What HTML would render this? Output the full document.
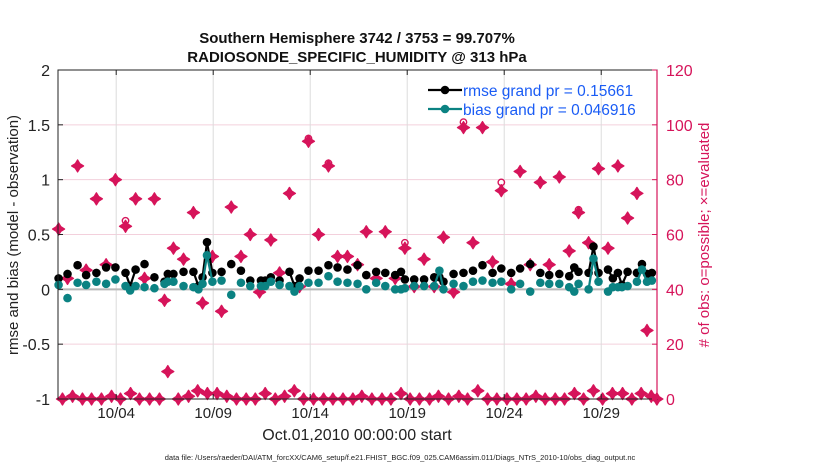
<!DOCTYPE html>
<html><head><meta charset="utf-8"><style>
body{margin:0;background:#fff}
svg{display:block;font-family:"Liberation Sans",sans-serif}
</style></head><body>
<svg id="c" width="830" height="470" viewBox="0 0 830 470"></svg>
<script>
const rmseDays=[0.03,0.49,1.01,1.45,1.98,2.48,2.96,3.48,3.72,4.0,4.46,4.97,5.49,5.66,5.95,6.47,6.98,7.24,7.45,7.68,7.96,8.43,8.93,9.43,9.91,10.46,10.68,10.97,11.42,11.93,12.19,12.45,12.91,13.43,13.94,14.41,14.92,15.44,15.89,16.40,16.87,17.38,17.68,17.88,18.36,18.87,19.39,19.66,19.87,20.39,20.90,21.39,21.88,22.40,22.85,23.36,23.82,24.34,24.86,25.32,25.84,26.35,26.61,26.83,27.35,27.60,27.86,28.35,28.60,28.86,29.07,29.36,29.84,30.10,30.36,30.61];
const rmseVals=[0.10,0.14,0.22,0.13,0.15,0.20,0.20,0.15,0.03,0.18,0.23,0.11,0.07,0.14,0.14,0.16,0.16,0.03,0.11,0.43,0.15,0.16,0.23,0.17,0.08,0.08,0.08,0.11,0.08,0.16,0.03,0.10,0.17,0.17,0.22,0.20,0.18,0.22,0.13,0.16,0.15,0.13,0.16,0.09,0.09,0.09,0.11,0.11,0.07,0.14,0.15,0.17,0.22,0.15,0.19,0.15,0.19,0.23,0.15,0.13,0.14,0.12,0.20,0.16,0.15,0.39,0.15,0.18,0.10,0.15,0.04,0.16,0.15,0.23,0.14,0.15];
const biasVals=[0.04,-0.08,0.06,0.04,0.07,0.05,0.09,0.03,-0.01,0.03,0.02,0.01,0.05,0.07,0.07,0.03,0.02,0.0,0.05,0.31,0.07,0.08,-0.05,0.06,0.03,0.03,0.03,0.07,0.04,0.03,-0.02,0.03,0.06,0.06,0.12,0.07,0.06,0.05,0.0,0.06,0.03,0.0,0.0,0.01,0.03,0.03,0.03,0.17,0.0,0.05,0.03,0.07,0.08,0.06,0.07,0.0,0.05,-0.02,0.06,0.05,0.05,0.02,-0.02,0.05,0.0,0.28,0.07,-0.02,0.02,0.02,0.02,0.03,0.07,0.18,0.07,0.08];
const obsDays=[0.03,0.49,1.01,1.45,1.98,2.48,2.96,3.48,4.0,4.46,4.97,5.49,5.66,5.95,6.47,6.98,7.45,7.96,8.43,8.93,9.43,9.91,10.39,10.97,11.42,11.93,12.45,12.91,13.43,13.94,14.41,14.92,15.44,15.89,16.40,16.87,17.38,17.88,18.36,18.87,19.39,19.87,20.39,20.90,21.39,21.88,22.40,22.85,23.36,23.82,24.34,24.86,25.32,25.84,26.35,26.83,27.35,27.86,28.35,28.86,29.36,29.84,30.36];
const obsEval=[62,44,85,47,73,49,80,63,73,44,73,36,10,55,51,68,35,52,32,70,52,60,39,58,46,75,41,94,60,85,52,52,49,61,44,61,44,55,41,51,41,59,39,99,57,99,50,76,42,83,49,79,49,81,54,68,57,84,55,85,66,75,25];
const obsPoss=[62,44,85,47,73,49,80,65,73,44,73,36,10,55,51,68,35,52,32,70,52,60,39,58,46,75,41,95,60,86,52,52,49,61,44,61,44,57,41,51,41,59,39,101,57,99,50,79,42,83,49,79,49,81,54,69,57,84,55,85,66,75,25];
const lowDays=[0.23,0.75,1.26,1.73,2.24,2.76,3.22,3.74,4.2,4.72,5.23,6.2,6.73,7.2,7.7,8.2,8.7,9.2,9.7,10.17,10.68,11.2,11.68,12.18,12.66,13.17,13.69,14.17,14.69,15.2,15.66,16.18,16.70,17.16,17.68,18.15,18.63,19.15,19.61,20.13,20.66,21.11,21.64,22.14,22.62,23.14,23.65,24.13,24.63,25.11,25.63,26.11,26.62,27.09,27.60,28.07,28.58,29.1,29.58,30.06,30.58,30.87];
const lowCounts=[0,1,0,0,0,1,0,2,0,0,0,0,1,3,2,2,1,0,0,0,2,0,1,3,0,0,0,0,0,0,1,0,0,0,2,0,0,0,1,0,1,0,3,0,0,0,0,0,1,0,0,0,2,0,3,0,2,2,0,2,1,0];
const leftTicks=[-1,-0.5,0,0.5,1,1.5,2];
const rightTicks=[0,20,40,60,80,100,120];
const dateTicks=[3,8,13,18,23,28];
const dateLabels=["10/04","10/09","10/14","10/19","10/24","10/29"];

const L=58,R=657,T=70,B=399;
const xS=d=>L+d*(R-L)/30.875;
const yL=v=>B-(v+1)*(B-T)/3;
const yR=v=>B-v*(B-T)/120;
const svg=document.getElementById('c');
const NS='http://www.w3.org/2000/svg';
function mk(tag,attrs,parent){const e=document.createElementNS(NS,tag);for(const k in attrs)e.setAttribute(k,attrs[k]);(parent||svg).appendChild(e);return e;}
const PINK='#d6145a';

leftTicks.forEach(v=>{if(v>-1&&v<2&&v!==0){const g=mk('line',{x1:L,x2:R,y1:yL(v),y2:yL(v),stroke:'#f3d0dc','stroke-width':1});

}});
dateTicks.forEach(d=>{const g=mk('line',{x1:xS(d),x2:xS(d),y1:T,y2:B,stroke:'#dcdcdc','stroke-width':1});

});
const zl=mk('line',{x1:L,x2:R,y1:yL(0),y2:yL(0),stroke:'#b8b8b8','stroke-width':2});



function star(x,y,parent){
  const p=mk('path',{d:`M${x} ${y-6}L${x+2.3} ${y-2.3}L${x+6} ${y}L${x+2.3} ${y+2.3}L${x} ${y+6}L${x-2.3} ${y+2.3}L${x-6} ${y}L${x-2.3} ${y-2.3}Z`,fill:PINK,stroke:PINK,'stroke-width':1.3,'stroke-linejoin':'round'},parent);
  
  
}
obsDays.forEach((d,i)=>{
  if(obsPoss[i]!==obsEval[i]){const c=mk('circle',{cx:xS(d),cy:yR(obsPoss[i]),r:3.2,fill:'none',stroke:PINK,'stroke-width':1.4});
  
  }
  star(xS(d),yR(obsEval[i]));
});
lowDays.forEach((d,i)=>star(xS(d),yR(lowCounts[i])));

function series(vals,color,name){
  // connect only consecutive (6-hourly) samples; larger gaps mean missing bins
  for(let i=1;i<rmseDays.length;i++){
    if(rmseDays[i]-rmseDays[i-1]<0.32){
      const l=mk('line',{x1:xS(rmseDays[i-1]),y1:yL(vals[i-1]),x2:xS(rmseDays[i]),y2:yL(vals[i]),stroke:color,'stroke-width':2.2});
      
      
    }
  }
  rmseDays.forEach((d,i)=>{const c=mk('circle',{cx:xS(d),cy:yL(vals[i]),r:4.3,fill:color});
  
  });
}
series(rmseVals,'#000','rmse');
series(biasVals,'#0b8282','bias');

const bx=mk('rect',{x:L,y:T,width:R-L,height:B-T,fill:'none',stroke:'#222','stroke-width':1});


const ra=mk('line',{x1:R,x2:R,y1:T,y2:B,stroke:PINK,'stroke-width':1.2});



leftTicks.forEach(v=>{
  mk('line',{x1:L,x2:L+5,y1:yL(v),y2:yL(v),stroke:'#222'});
  const t=mk('text',{x:L-8,y:yL(v)+6,'text-anchor':'end','font-size':16,fill:'#222'});
  t.textContent=String(v);
  
  
});
rightTicks.forEach(v=>{
  mk('line',{x1:R,x2:R-5,y1:yR(v),y2:yR(v),stroke:PINK});
  const t=mk('text',{x:R+9,y:yR(v)+6,'font-size':16,fill:PINK});
  t.textContent=String(v);
  
  
});
dateTicks.forEach((d,i)=>{
  mk('line',{x1:xS(d),x2:xS(d),y1:B,y2:B-5,stroke:'#222'});
  mk('line',{x1:xS(d),x2:xS(d),y1:T,y2:T+5,stroke:'#222'});
  const t=mk('text',{x:xS(d),y:418,'text-anchor':'middle','font-size':15,fill:'#222'});
  t.textContent=dateLabels[i];
  
  
});
</script>
<script>
(function(){
const svg=document.getElementById('c');const NS='http://www.w3.org/2000/svg';
function txt(s,a,name){const e=document.createElementNS(NS,'text');for(const k in a)e.setAttribute(k,a[k]);e.textContent=s;


svg.appendChild(e);return e;}
txt('Southern Hemisphere 3742 / 3753 = 99.707%',{x:357,y:43,'text-anchor':'middle','font-size':15,'font-weight':'bold',fill:'#111'},'chart-title');
txt('RADIOSONDE_SPECIFIC_HUMIDITY @ 313 hPa',{x:357,y:62,'text-anchor':'middle','font-size':15,'font-weight':'bold',fill:'#111'},'chart-subtitle');
txt('rmse and bias (model - observation)',{x:0,y:0,transform:'translate(18 235) rotate(-90)','text-anchor':'middle','font-size':15,fill:'#222'},'y-axis-title');
txt('# of obs: o=possible; \u00d7=evaluated',{x:0,y:0,transform:'translate(709 235) rotate(-90)','text-anchor':'middle','font-size':15,fill:'#d6145a'},'right-axis-title');
txt('Oct.01,2010 00:00:00 start',{x:357,y:440,'text-anchor':'middle','font-size':16,fill:'#222'},'x-axis-title');
txt('data file: /Users/raeder/DAI/ATM_forcXX/CAM6_setup/f.e21.FHIST_BGC.f09_025.CAM6assim.011/Diags_NTrS_2010-10/obs_diag_output.nc',{x:400,y:460,'text-anchor':'middle','font-size':7.5,fill:'#222'},'data-file-note');
function leg(y,color,label){
 const g=document.createElementNS(NS,'g');
 
 
 svg.appendChild(g);
 const l=document.createElementNS(NS,'line');
 l.setAttribute('x1',428);l.setAttribute('x2',462);l.setAttribute('y1',y);l.setAttribute('y2',y);l.setAttribute('stroke',color);l.setAttribute('stroke-width',2.2);g.appendChild(l);
 const c=document.createElementNS(NS,'circle');c.setAttribute('cx',445);c.setAttribute('cy',y);c.setAttribute('r',4.3);c.setAttribute('fill',color);g.appendChild(c);
 const t=document.createElementNS(NS,'text');t.setAttribute('x',463);t.setAttribute('y',y+6);t.setAttribute('font-size',15.5);t.setAttribute('fill','#1a5cf5');t.textContent=label;g.appendChild(t);
}
leg(90,'#000','rmse grand pr = 0.15661');
leg(109,'#0b8282','bias grand pr = 0.046916');
})();
</script>
</body></html>
